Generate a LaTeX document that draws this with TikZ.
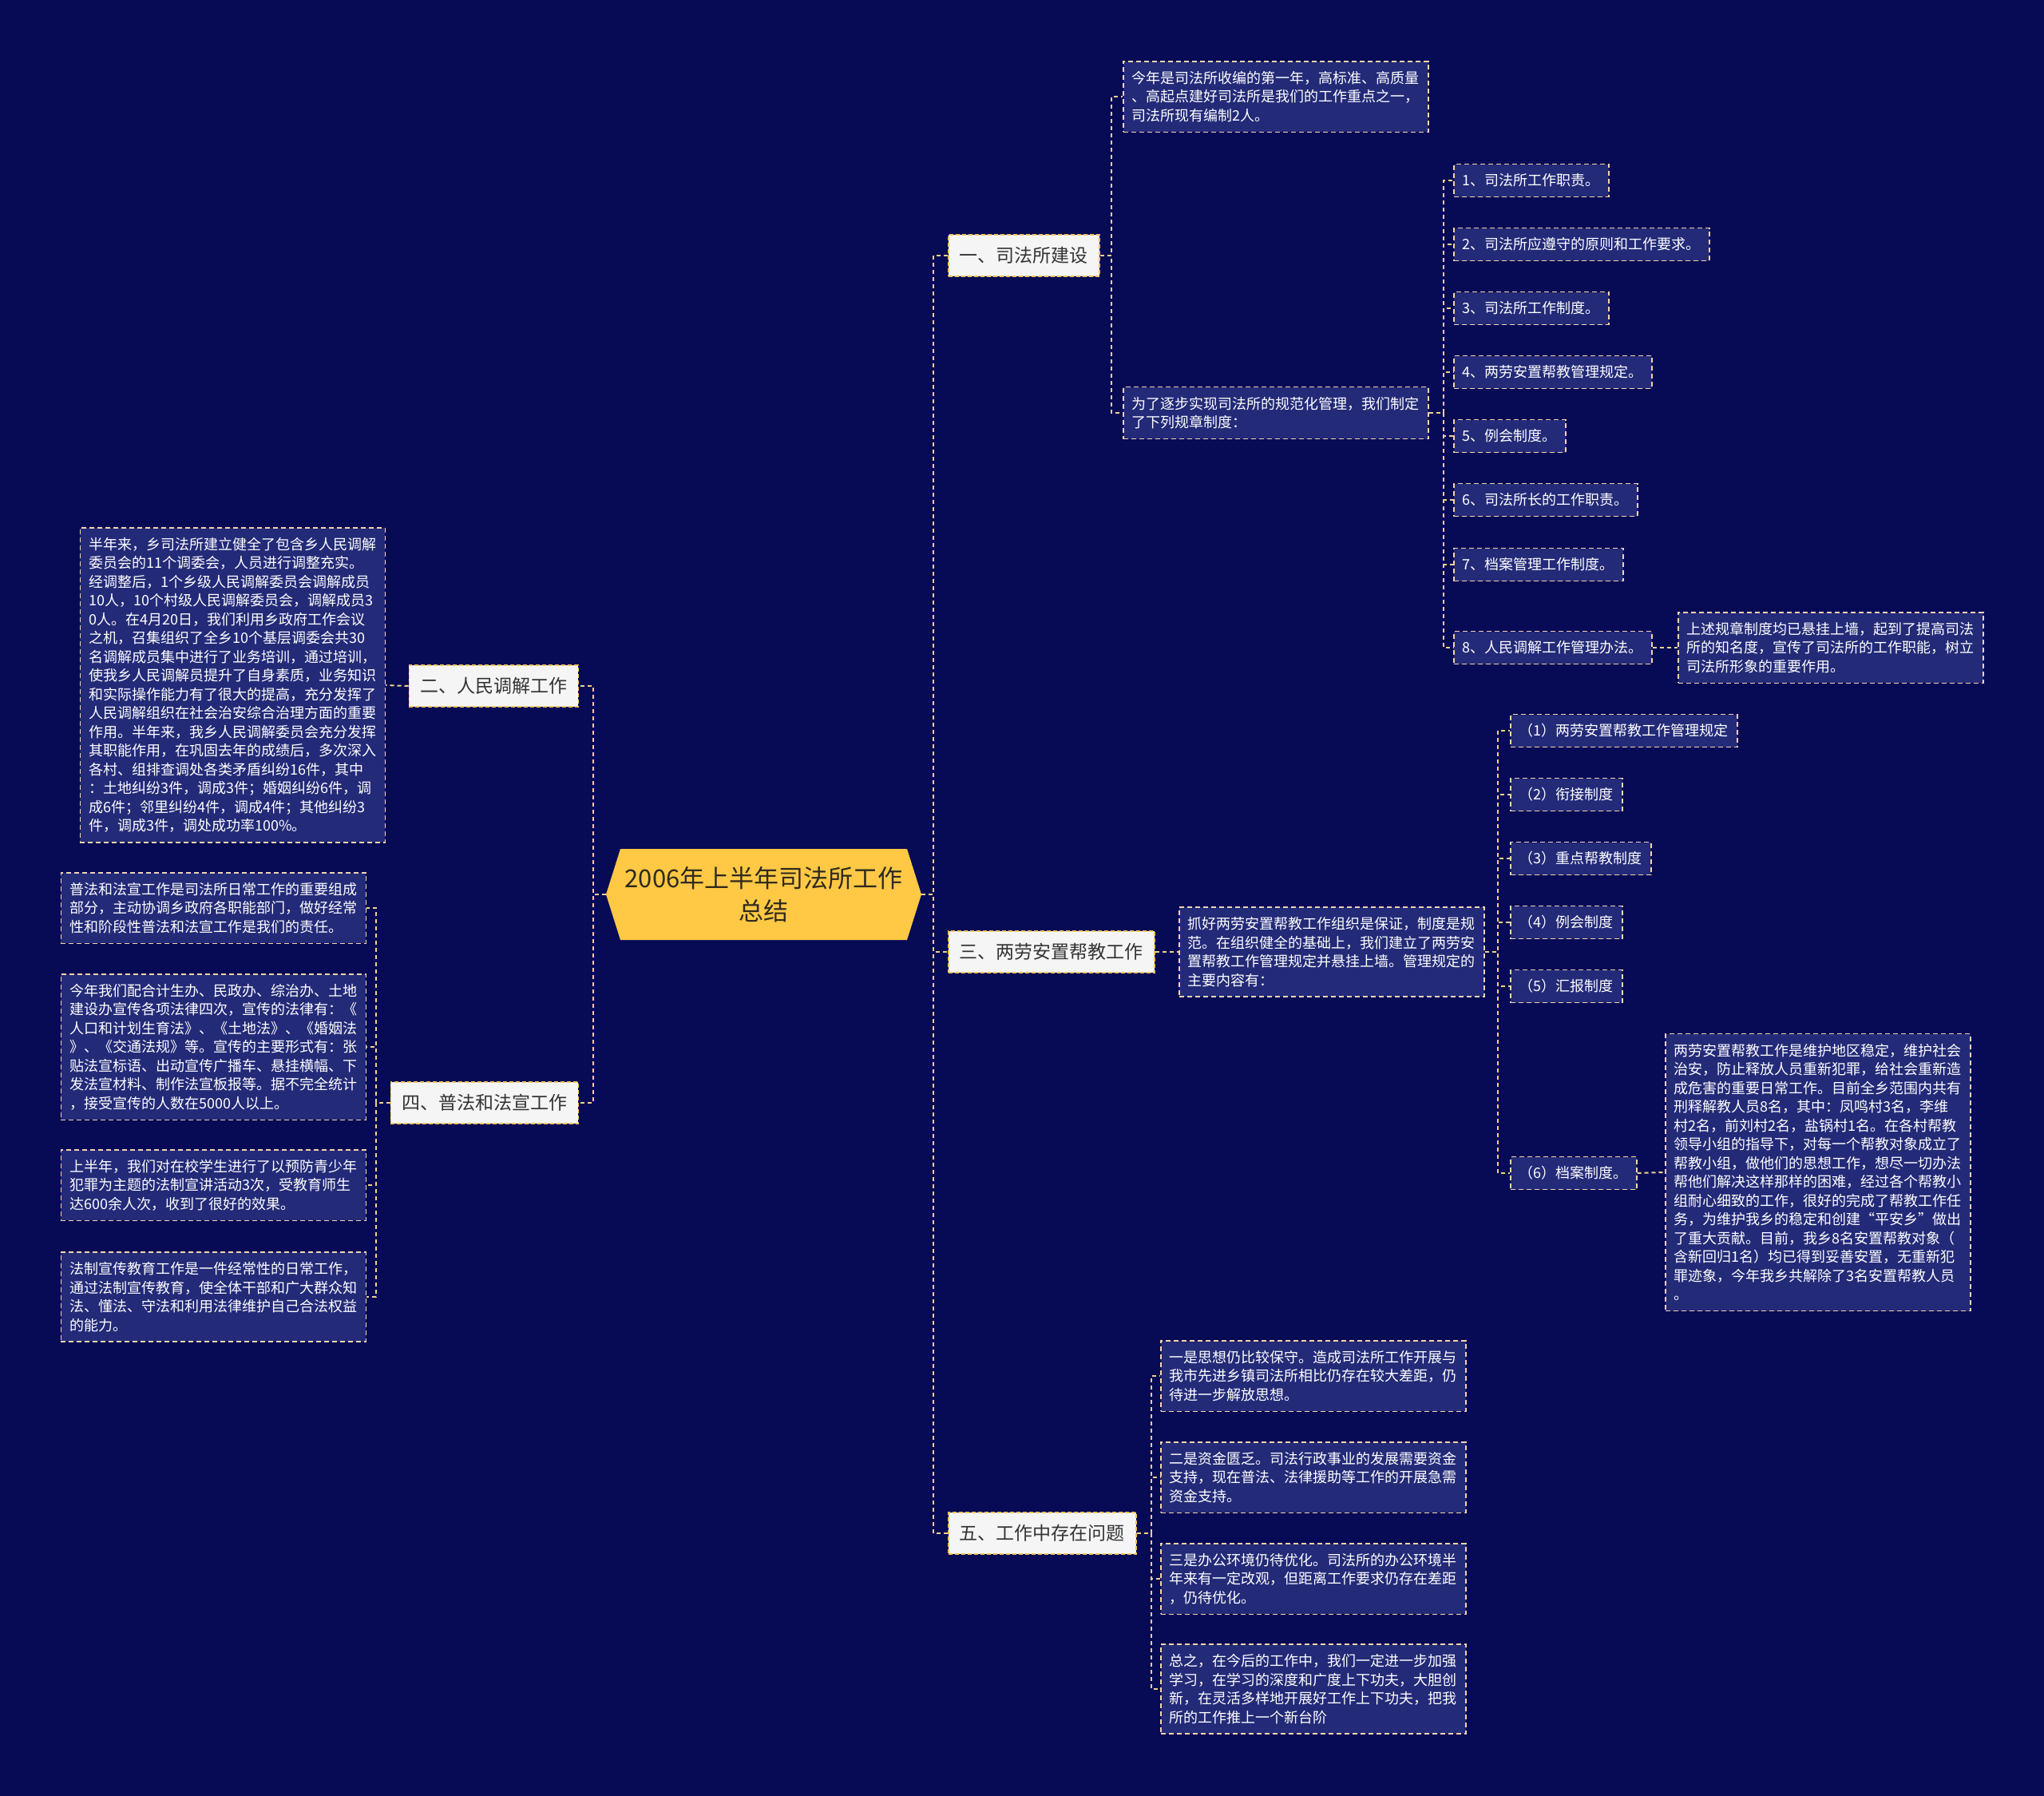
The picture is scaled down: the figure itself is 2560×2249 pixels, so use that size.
\documentclass[tikz,border=0pt]{standalone}
\usepackage{fontspec}
\newfontfamily\cjk{Noto Sans CJK SC}
\usetikzlibrary{calc}
\definecolor{bg}{HTML}{070B55}
\definecolor{boxfill}{HTML}{232A78}
\definecolor{boxline}{HTML}{F3D3AE}
\definecolor{connc}{HTML}{F3D08A}
\definecolor{rootfill}{HTML}{FFC845}
\definecolor{branchfill}{HTML}{F5F5F5}
\definecolor{branchline}{HTML}{F2C45A}
\definecolor{branchtext}{HTML}{333333}
\definecolor{roottext}{HTML}{2E2A1E}
\begin{document}
\begin{tikzpicture}[x=1pt,y=-1pt,
 tb/.style={draw=boxline, dash pattern=on 6pt off 4pt, line width=1.5pt, fill=boxfill, text=white,
   font=\cjk\fontsize{18}{23.5}\selectfont, inner xsep=11pt, inner ysep=4pt, anchor=west},
 para/.style={tb, text width=360pt, align=left},
 item/.style={tb, minimum height=41pt},
 branch/.style={draw=branchline, dash pattern=on 5pt off 3pt, line width=1.5pt, fill=branchfill,
   text=branchtext, font=\cjk\fontsize{23}{28}\selectfont, inner xsep=14pt, inner ysep=2pt, minimum height=52pt},
 conn/.style={draw=connc, dash pattern=on 5pt off 4pt, line width=2pt},
]
\useasboundingbox (0,0) rectangle (2560,2249);
\fill[bg] (0,0) rectangle (2560,2249);

% root
\fill[rootfill] (759,1120) -- (777,1063) -- (1136,1063) -- (1154,1120) -- (1136,1177) -- (777,1177) -- cycle;
\node[font=\cjk\fontsize{31}{41}\selectfont, text=roottext, align=center, minimum width=395pt,
  minimum height=114pt, inner sep=0pt] (root) at (956.5,1120) {2006年上半年司法所工作\\总结};

% branches
\node[branch, anchor=west] (b1) at (1187,320) {一、司法所建设};
\node[branch, anchor=west] (b3) at (1187,1192) {三、两劳安置帮教工作};
\node[branch, anchor=west] (b5) at (1187,1920) {五、工作中存在问题};
\node[branch, anchor=east] (b2) at (725,859) {二、人民调解工作};
\node[branch, anchor=east] (b4) at (725,1381) {四、普法和法宣工作};

\coordinate (tR) at ($(root.east)+(15,0)$);
\coordinate (tL) at ($(root.west)+(-16,0)$);
\draw[conn] (root.east) -- (tR) |- (b1.west);
\draw[conn] (root.east) -- (tR) |- (b3.west);
\draw[conn] (root.east) -- (tR) |- (b5.west);
\draw[conn] (root.west) -- (tL) |- (b2.east);
\draw[conn] (root.west) -- (tL) |- (b4.east);

% ---- 一 subtree
\node[para, minimum height=88.5pt] (a1) at (1406,121) {今年是司法所收编的第一年，高标准、高质量\\、高起点建好司法所是我们的工作重点之一，\\司法所现有编制2人。};
\node[para, minimum height=65pt] (a2) at (1406,517) {为了逐步实现司法所的规范化管理，我们制定\\了下列规章制度：};
\coordinate (t1) at ($(b1.east)+(14,0)$);
\draw[conn] (b1.east) -- (t1) |- (a1.west);
\draw[conn] (b1.east) -- (t1) |- (a2.west);

\node[item] (i1) at (1820,226) {1、司法所工作职责。};
\node[item] (i2) at (1820,306) {2、司法所应遵守的原则和工作要求。};
\node[item] (i3) at (1820,386) {3、司法所工作制度。};
\node[item] (i4) at (1820,466) {4、两劳安置帮教管理规定。};
\node[item] (i5) at (1820,546) {5、例会制度。};
\node[item] (i6) at (1820,626) {6、司法所长的工作职责。};
\node[item] (i7) at (1820,707) {7、档案管理工作制度。};
\node[item] (i8) at (1820,811) {8、人民调解工作管理办法。};
\coordinate (t2) at ($(a2.east)+(18,0)$);
\foreach \n in {i1,i2,i3,i4,i5,i6,i7,i8} {\draw[conn] (a2.east) -- (t2) |- (\n.west);}

\node[para, minimum height=88.5pt] (i8c) at (2101,811) {上述规章制度均已悬挂上墙，起到了提高司法\\所的知名度，宣传了司法所的工作职能，树立\\司法所形象的重要作用。};
\draw[conn] (i8.east) -- (i8c.west);

% ---- 三 subtree
\node[para, minimum height=112pt] (p3) at (1476,1192) {抓好两劳安置帮教工作组织是保证，制度是规\\范。在组织健全的基础上，我们建立了两劳安\\置帮教工作管理规定并悬挂上墙。管理规定的\\主要内容有：};
\draw[conn] (b3.east) -- (p3.west);

\node[item] (j1) at (1891,915) {（1）两劳安置帮教工作管理规定};
\node[item] (j2) at (1891,995) {（2）衔接制度};
\node[item] (j3) at (1891,1075) {（3）重点帮教制度};
\node[item] (j4) at (1891,1155) {（4）例会制度};
\node[item] (j5) at (1891,1235) {（5）汇报制度};
\node[item] (j6) at (1891,1469) {（6）档案制度。};
\coordinate (t3) at ($(p3.east)+(16,0)$);
\foreach \n in {j1,j2,j3,j4,j5,j6} {\draw[conn] (p3.east) -- (t3) |- (\n.west);}

\node[para, minimum height=347pt] (j6c) at (2085,1468) {两劳安置帮教工作是维护地区稳定，维护社会\\治安，防止释放人员重新犯罪，给社会重新造\\成危害的重要日常工作。目前全乡范围内共有\\刑释解教人员8名，其中：凤鸣村3名，李维\\村2名，前刘村2名，盐锅村1名。在各村帮教\\领导小组的指导下，对每一个帮教对象成立了\\帮教小组，做他们的思想工作，想尽一切办法\\帮他们解决这样那样的困难，经过各个帮教小\\组耐心细致的工作，很好的完成了帮教工作任\\务，为维护我乡的稳定和创建“平安乡”做出\\了重大贡献。目前，我乡8名安置帮教对象（\\含新回归1名）均已得到妥善安置，无重新犯\\罪迹象，今年我乡共解除了3名安置帮教人员\\。};
\draw[conn] (j6.east) -- (j6c.west);

% ---- 五 subtree
\node[para, minimum height=88.5pt] (c1) at (1453,1723) {一是思想仍比较保守。造成司法所工作开展与\\我市先进乡镇司法所相比仍存在较大差距，仍\\待进一步解放思想。};
\node[para, minimum height=88.5pt] (c2) at (1453,1850) {二是资金匮乏。司法行政事业的发展需要资金\\支持，现在普法、法律援助等工作的开展急需\\资金支持。};
\node[para, minimum height=88.5pt] (c3) at (1453,1977) {三是办公环境仍待优化。司法所的办公环境半\\年来有一定改观，但距离工作要求仍存在差距\\，仍待优化。};
\node[para, minimum height=112pt] (c4) at (1453,2115) {总之，在今后的工作中，我们一定进一步加强\\学习，在学习的深度和广度上下功夫，大胆创\\新，在灵活多样地开展好工作上下功夫，把我\\所的工作推上一个新台阶};
\coordinate (t5) at ($(b5.east)+(18,0)$);
\foreach \n in {c1,c2,c3,c4} {\draw[conn] (b5.east) -- (t5) |- (\n.west);}

% ---- 二 subtree
\node[para, anchor=east, minimum height=394pt] (d1) at (483,858) {半年来，乡司法所建立健全了包含乡人民调解\\委员会的11个调委会，人员进行调整充实。\\经调整后，1个乡级人民调解委员会调解成员\\10人，10个村级人民调解委员会，调解成员3\\0人。在4月20日，我们利用乡政府工作会议\\之机，召集组织了全乡10个基层调委会共30\\名调解成员集中进行了业务培训，通过培训，\\使我乡人民调解员提升了自身素质，业务知识\\和实际操作能力有了很大的提高，充分发挥了\\人民调解组织在社会治安综合治理方面的重要\\作用。半年来，我乡人民调解委员会充分发挥\\其职能作用，在巩固去年的成绩后，多次深入\\各村、组排查调处各类矛盾纠纷16件，其中\\：土地纠纷3件，调成3件；婚姻纠纷6件，调\\成6件；邻里纠纷4件，调成4件；其他纠纷3\\件，调成3件，调处成功率100\%。};
\draw[conn] (b2.west) -- (d1.east);

% ---- 四 subtree
\node[para, anchor=east, minimum height=88.5pt] (e1) at (459,1137) {普法和法宣工作是司法所日常工作的重要组成\\部分，主动协调乡政府各职能部门，做好经常\\性和阶段性普法和法宣工作是我们的责任。};
\node[para, anchor=east, minimum height=182.5pt] (e2) at (459,1311) {今年我们配合计生办、民政办、综治办、土地\\建设办宣传各项法律四次，宣传的法律有：《\\人口和计划生育法》、《土地法》、《婚姻法\\》、《交通法规》等。宣传的主要形式有：张\\贴法宣标语、出动宣传广播车、悬挂横幅、下\\发法宣材料、制作法宣板报等。据不完全统计\\，接受宣传的人数在5000人以上。};
\node[para, anchor=east, minimum height=88.5pt] (e3) at (459,1484) {上半年，我们对在校学生进行了以预防青少年\\犯罪为主题的法制宣讲活动3次，受教育师生\\达600余人次，收到了很好的效果。};
\node[para, anchor=east, minimum height=112pt] (e4) at (459,1624) {法制宣传教育工作是一件经常性的日常工作，\\通过法制宣传教育，使全体干部和广大群众知\\法、懂法、守法和利用法律维护自己合法权益\\的能力。};
\coordinate (t4) at ($(b4.west)+(-18,0)$);
\foreach \n in {e1,e2,e3,e4} {\draw[conn] (b4.west) -- (t4) |- (\n.east);}
\end{tikzpicture}
\end{document}
